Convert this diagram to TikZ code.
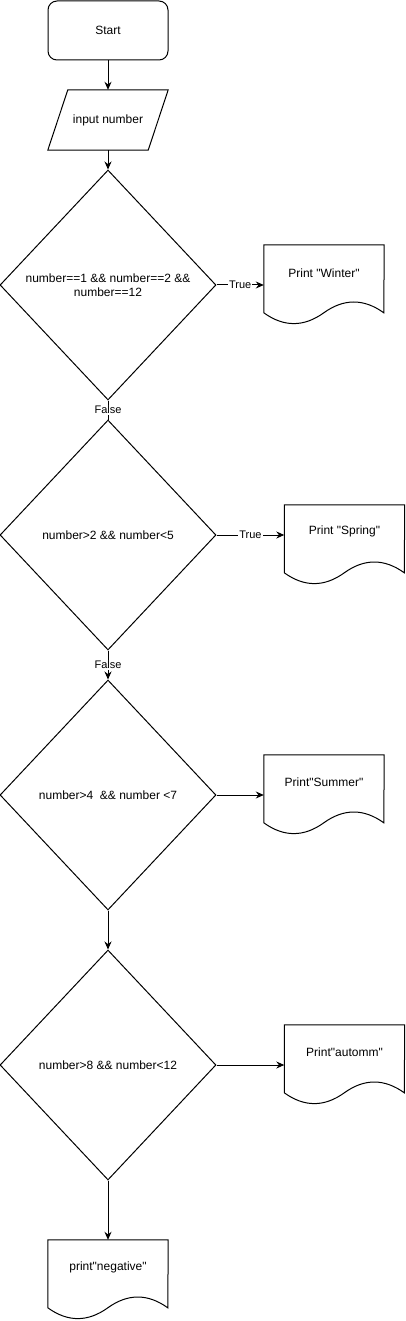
\documentclass[tikz,border=0pt]{standalone}
\usepackage{fontspec}
\setmainfont{Liberation Sans}
\usetikzlibrary{shapes.geometric,arrows.meta,calc}
\newcommand\dq{\textquotedbl{}}
\tikzset{
  line/.style={draw=black,line width=1pt},
  arr/.style={line,-{Stealth[length=8pt,width=7pt]}},
  txt/.style={font=\fontsize{12}{14}\selectfont,inner sep=0pt,align=center},
  lbl/.style={font=\fontsize{11}{13}\selectfont,fill=white,inner sep=1pt},
  startbox/.style={line,rounded corners=9pt,minimum width=120pt,minimum height=59pt,inner sep=0pt,font=\fontsize{12}{14}\selectfont},
  box/.style={minimum width=120pt,minimum height=#1,inner sep=0pt},
  decision/.style={line,diamond,minimum width=216pt,minimum height=230pt,inner sep=0pt},
}
\newcommand\docpath[1]{%
  \draw[line] (#1.north west) -- (#1.north east) -- ($(#1.north west)+(120,68)$)
    .. controls ($(#1.north west)+(100,53.6)$) and ($(#1.north west)+(80,53.6)$) .. ($(#1.north west)+(60,68)$)
    .. controls ($(#1.north west)+(40,82.4)$) and ($(#1.north west)+(20,82.4)$) .. ($(#1.north west)+(0,68)$) -- cycle;}
\begin{document}
\begin{tikzpicture}[x=1pt,y=-1pt]
\useasboundingbox (0,0) rectangle (405,1321);
% start
\node[startbox] (s) at (108,30.5) {Start};
% input
\node[box=60pt] (in) at (108,120) {};
\draw[line] ($(in.north west)+(20,0)$) -- (in.north east) -- ($(in.south east)+(-20,0)$) -- (in.south west) -- cycle;
\node[txt] (int) at (in) {input number};
% decisions
\node[decision] (d1) at (108,285) {};
\node[txt] (d1t) at (d1) {number==1 \&\& number==2 \&\&\\number==12};
\node[decision] (d2) at (108,535) {};
\node[txt] (d2t) at (d2) {number>2 \&\& number<5};
\node[decision] (d3) at (108,795) {};
\node[txt] (d3t) at (d3) {number>4 \ \&\& number <7};
\node[decision] (d4) at (108,1065) {};
\node[txt] (d4t) at (d4) {number>8 \&\& number<12};
% documents
\node[box=80pt] (w) at (324,285) {};
\docpath{w}
\node[txt] (wt) at ($(w.north)+(0,28)$) {Print \dq Winter\dq};
\node[box=80pt] (sp) at (344.5,545) {};
\docpath{sp}
\node[txt] (spt) at ($(sp.north)+(0,27)$) {Print \dq Spring\dq};
\node[box=80pt] (su) at (324,795) {};
\docpath{su}
\node[txt] (sut) at ($(su.north)+(0,27)$) {Print\dq Summer\dq};
\node[box=80pt] (au) at (344.5,1065) {};
\docpath{au}
\node[txt] (aut) at ($(au.north)+(0,27)$) {Print\dq automm\dq};
\node[box=80pt] (ng) at (108,1280) {};
\docpath{ng}
\node[txt] (ngt) at ($(ng.north)+(0,28)$) {print\dq negative\dq};
% connectors
\draw[arr] (s.south) -- (in.north);
\draw[arr] (in.south) -- (d1.north);
\draw[arr] (d1.east) -- node[lbl] (t1) {True} (w.west);
\draw[line] (d1.south) -- node[lbl] (f1) {False} (d2.north);
\draw[arr] (d2.east) -- node[lbl] (t2) {True} (d2.east -| sp.west);
\draw[arr] (d2.south) -- node[lbl] (f2) {False} (d3.north);
\draw[arr] (d3.east) -- (su.west);
\draw[arr] (d3.south) -- (d4.north);
\draw[arr] (d4.east) -- (au.west);
\draw[arr] (d4.south) -- (ng.north);
\end{tikzpicture}
\end{document}
